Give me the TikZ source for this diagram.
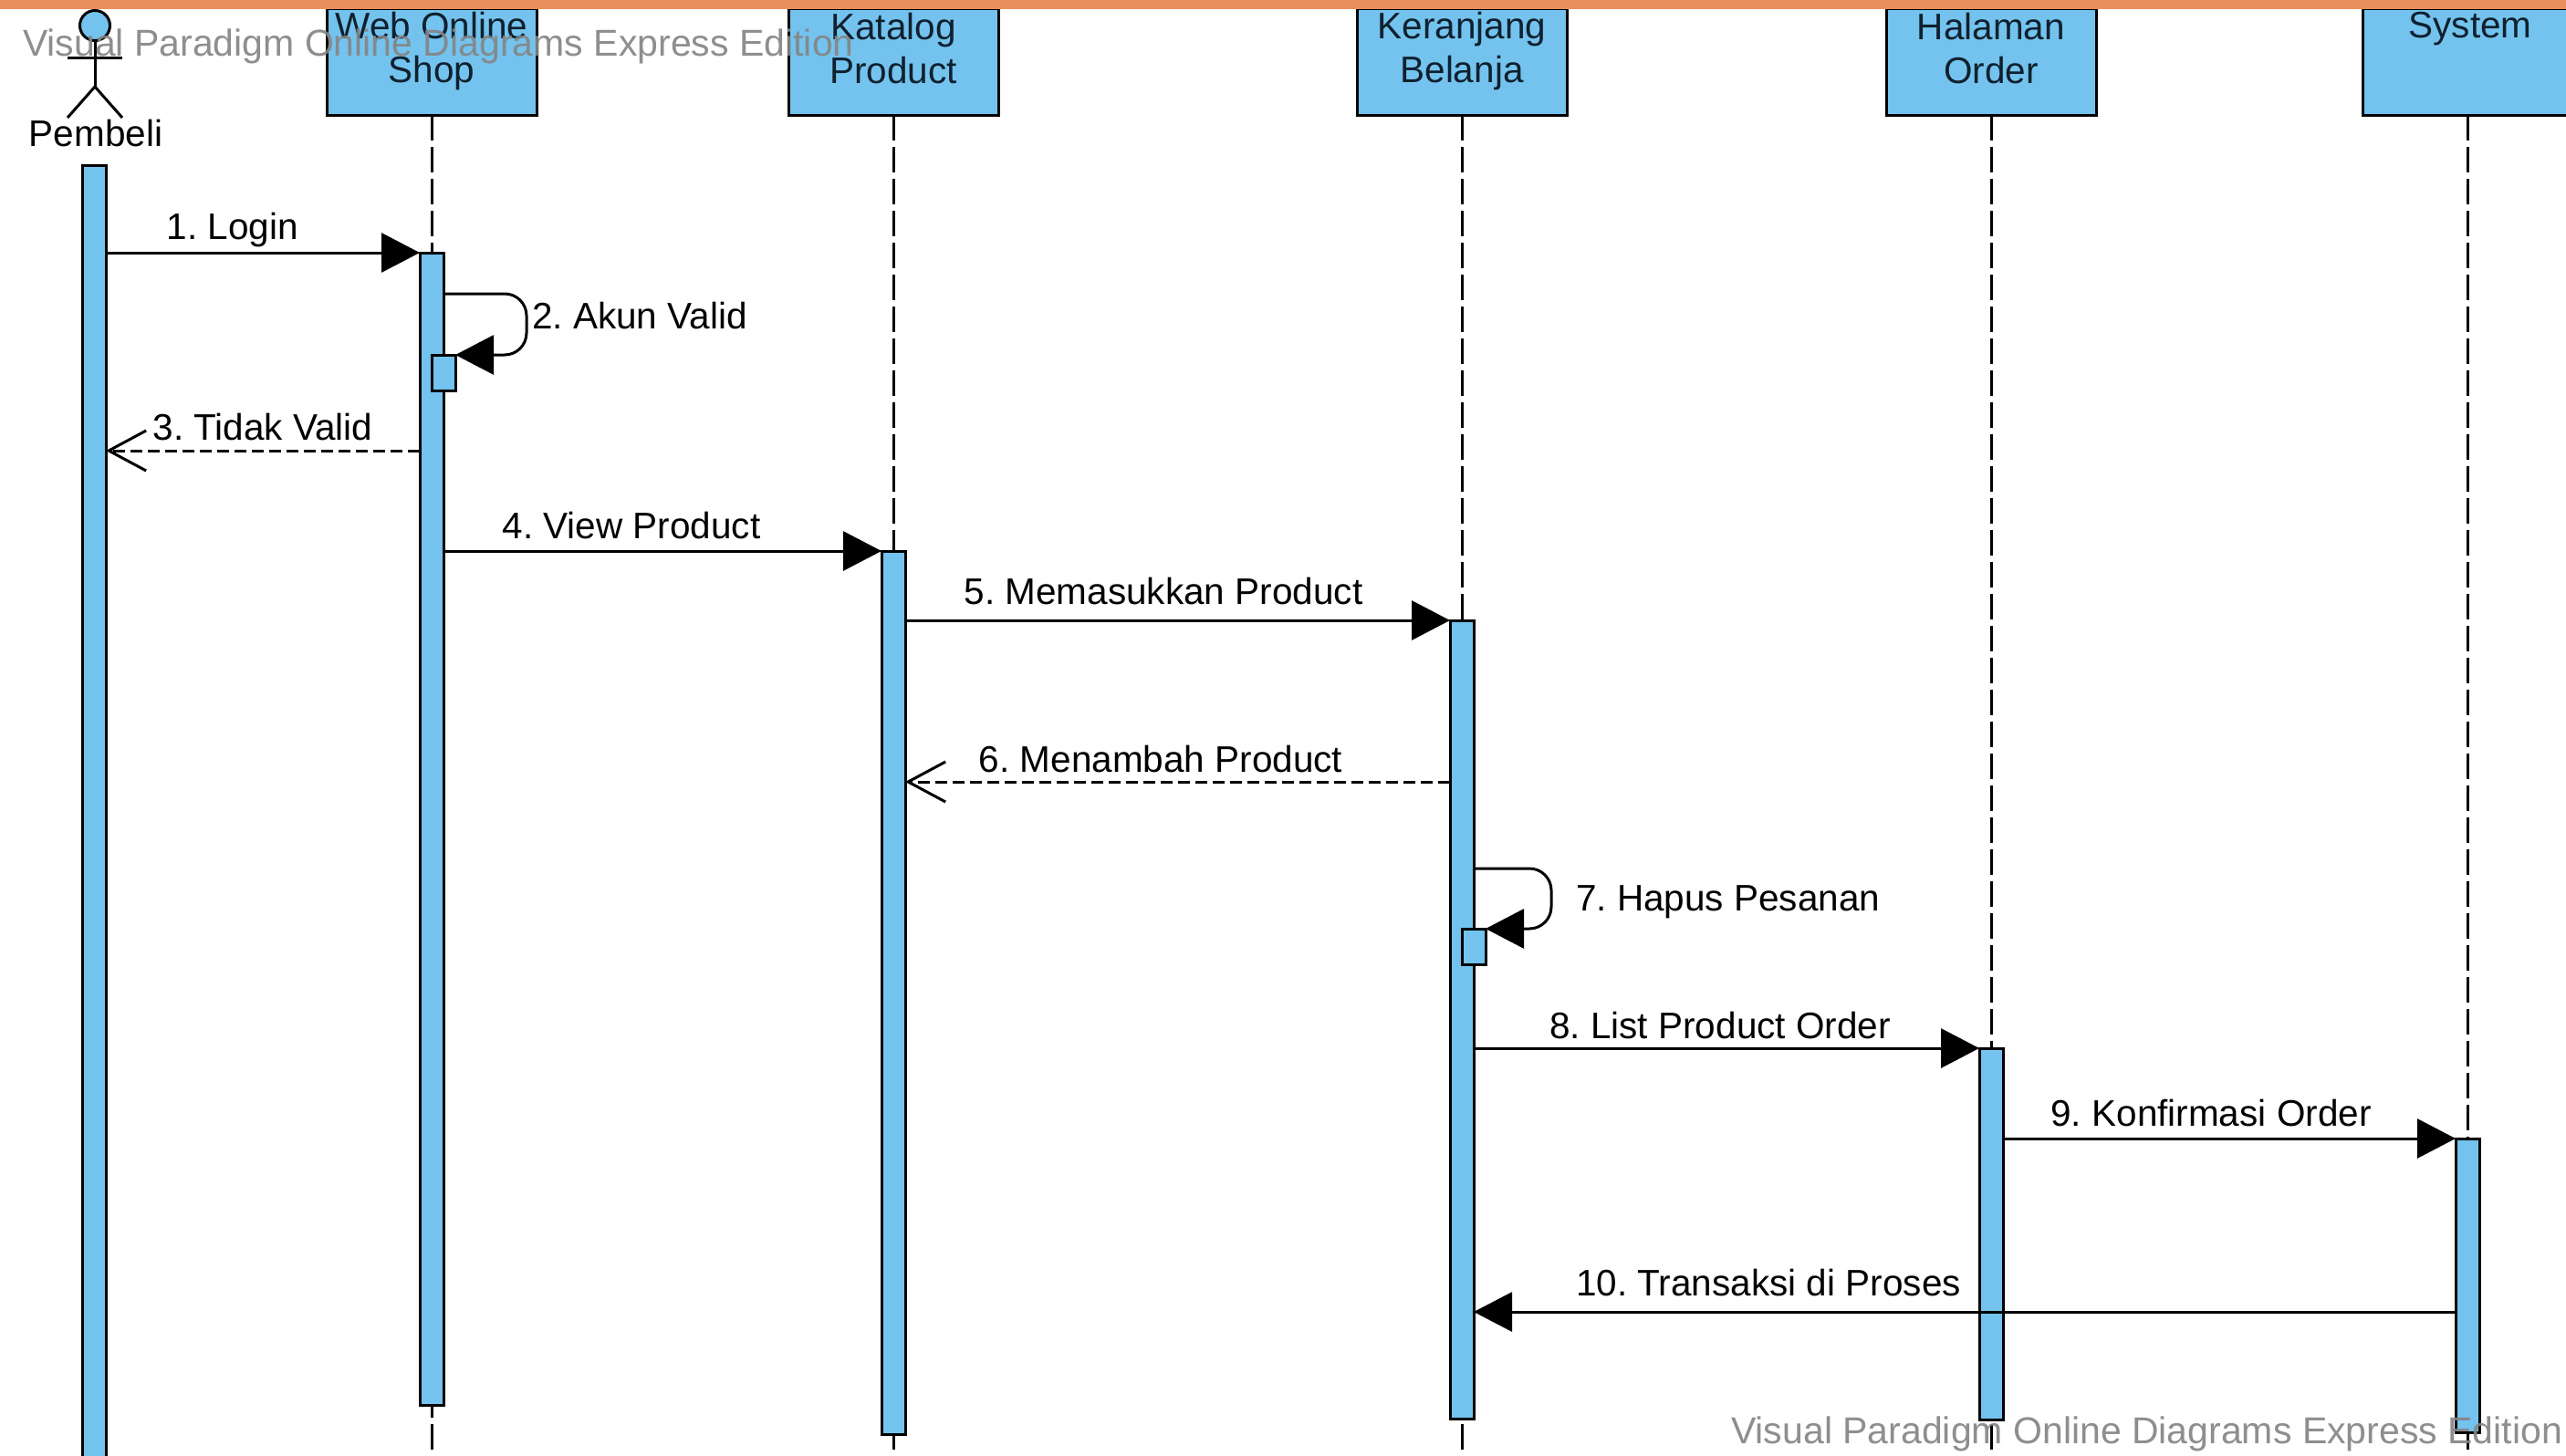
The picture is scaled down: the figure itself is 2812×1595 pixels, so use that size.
\documentclass[tikz,border=0pt]{standalone}
\usepackage{fontspec}
\setmainfont{Liberation Sans}
\usetikzlibrary{arrows.meta}
\frenchspacing
\definecolor{lifefill}{HTML}{73C3EE}
\definecolor{topbar}{HTML}{E98F5B}
\definecolor{headtext}{HTML}{10202E}
\definecolor{wmark}{HTML}{858585}
\tikzset{
  x=1pt,y=-1pt,
  every node/.style={font=\fontsize{40.5}{48}\selectfont,inner sep=0pt,outer sep=0pt},
  headbox/.style={draw=black,fill=lifefill,line width=3pt,minimum width=230pt,minimum height=116pt},
  headtxt/.style={align=center,text=headtext},
  lifeline/.style={draw=black,line width=3pt,dash pattern=on 28pt off 7pt},
  actbar/.style={draw=black,fill=lifefill,line width=3pt,minimum width=26pt},
  selfbar/.style={draw=black,fill=lifefill,line width=3pt,minimum width=26pt,minimum height=39pt},
  sync/.style={draw=black,line width=3pt,-{Triangle[length=42pt,width=43pt]}},
  reply/.style={draw=black,line width=3pt,dash pattern=on 13pt off 6pt,-{Straight Barb[length=41pt,width=44pt,line width=3pt]}},
  msg/.style={text=black},
  wm/.style={text=wmark,opacity=.92,font=\fontsize{41}{48}\selectfont},
  stick/.style={draw=black,line width=3pt},
}
\begin{document}
\begin{tikzpicture}
\clip (0,0) rectangle (2812,1595);
\fill[white] (0,0) rectangle (2812,1595);
% lifelines headers
\node[headbox] (web) at (473,68) {};
\node[headbox] (kat) at (979,68) {};
\node[headbox] (ker) at (1602,68) {};
\node[headbox] (hal) at (2182,68) {};
\node[headbox] (sys) at (2704,68) {};
\coordinate (endweb) at (473,1595);
\coordinate (endkat) at (979,1595);
\coordinate (endker) at (1602,1595);
\coordinate (endhal) at (2182,1595);
\coordinate (endsys) at (2704,1595);
\draw[lifeline] (web.south) -- (endweb);
\draw[lifeline] (kat.south) -- (endkat);
\draw[lifeline] (ker.south) -- (endker);
\draw[lifeline] (hal.south) -- (endhal);
\draw[lifeline] (sys.south) -- (endsys);
\node[headtxt] (webt) at (473,56) {Web Online\\Shop};
\node[headtxt] (katt) at (979,53) {Katalog\\Product};
\node[headtxt] (kert) at (1602,56) {Keranjang\\Belanja};
\node[headtxt] (halt) at (2182,53) {Halaman\\Order};
\node[headtxt] (syst) at (2707,32) {System};
% actor
\node[circle,draw=black,fill=lifefill,line width=3pt,minimum size=33pt] (head) at (104,28) {};
\coordinate (hip) at (104,95);
\coordinate (armL) at (74,64);
\coordinate (armR) at (134,64);
\coordinate (legL) at (74,129);
\coordinate (legR) at (134,129);
\draw[stick] (head.south) -- (hip);
\draw[stick] (armL) -- (armR);
\draw[stick] (legL) -- (hip) -- (legR);
\node (pembeli) at (105,146) {Pembeli};
% activations
\node[actbar,minimum height=1500pt,anchor=north] (a0) at (103,181) {};
\node[actbar,minimum height=1263pt,anchor=north] (a1) at (473,277) {};
\node[selfbar,anchor=north] (a1s) at (486,389) {};
\node[actbar,minimum height=968pt,anchor=north] (a2) at (979,604) {};
\node[actbar,minimum height=875pt,anchor=north] (a3) at (1602,680) {};
\node[selfbar,anchor=north] (a3s) at (1615,1018) {};
\node[actbar,minimum height=407pt,anchor=north] (a4) at (2182,1149) {};
\node[actbar,minimum height=322pt,anchor=north] (a5) at (2704,1248) {};
% messages
\draw[sync] (a0.east |- a1.north) -- (a1.north west);
\node[msg] (m1) at (255,252) {1. Login};
\coordinate (r2a) at (577,322);
\coordinate (r2b) at (577,389);
\draw[sync,rounded corners=24pt] (a1.east |- r2a) -- (r2a) -- (r2b) -- (a1s.north east);
\node[msg,anchor=west] (m2) at (583,346) {2. Akun Valid};
\coordinate (y3) at (0,494);
\draw[reply] (a1.west |- y3) -- (a0.east |- y3);
\node[msg] (m3) at (288,468) {3. Tidak Valid};
\draw[sync] (a1.east |- a2.north) -- (a2.north west);
\node[msg] (m4) at (692,576) {4. View Product};
\draw[sync] (a2.east |- a3.north) -- (a3.north west);
\node[msg] (m5) at (1275,648) {5. Memasukkan Product};
\coordinate (y6) at (0,857);
\draw[reply] (a3.west |- y6) -- (a2.east |- y6);
\node[msg] (m6) at (1272,832) {6. Menambah Product};
\coordinate (r7a) at (1700,952);
\coordinate (r7b) at (1700,1018);
\draw[sync,rounded corners=24pt] (a3.east |- r7a) -- (r7a) -- (r7b) -- (a3s.north east);
\node[msg,anchor=west] (m7) at (1727,989) {7. Hapus Pesanan};
\draw[sync] (a3.east |- a4.north) -- (a4.north west);
\node[msg] (m8) at (1885,1124) {8. List Product Order};
\draw[sync] (a4.east |- a5.north) -- (a5.north west);
\node[msg] (m9) at (2423,1220) {9. Konfirmasi Order};
\coordinate (y10) at (0,1438);
\draw[sync] (a5.west |- y10) -- (a3.east |- y10);
\node[msg] (m10) at (1938,1406) {10. Transaksi di Proses};
% watermarks
\node[wm,anchor=west] (wm1) at (25,51) {Visual Paradigm Online Diagrams Express Edition};
\node[wm,anchor=east] (wm2) at (2808,1572) {Visual Paradigm Online Diagrams Express Edition};
% top bar
\fill[topbar] (0,0) rectangle (2812,10);
\end{tikzpicture}
\end{document}
